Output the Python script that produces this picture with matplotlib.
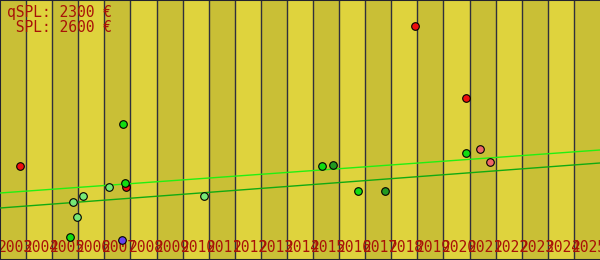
import numpy as np
import matplotlib
matplotlib.use("Agg")
import matplotlib.pyplot as plt

# years shown as columns
years = list(range(2003, 2026))

# listings (fractional year, value)
red_x = [2003.78, 2007.84, 2018.92, 2020.88]
red_y = [94, 72.7, 233.7, 161.7]
pink_x = [2021.41, 2021.80]
pink_y = [110.7, 97.7]
lgreen_x = [2007.19, 2006.19, 2005.81, 2005.96, 2010.82]
lgreen_y = [73, 64, 57.7, 42.7, 64]
green_x = [2007.80, 2005.68, 2007.73, 2015.35, 2016.73, 2020.88]
green_y = [77, 23, 135.7, 93.7, 68.7, 106.7]
dgreen_x = [2015.78, 2017.77]
dgreen_y = [95, 68.7]
blue_x = [2007.69]
blue_y = [20]

# trend lines (start / end value)
trend_x = [2003, 2026]
trend_q = [67, 110]
trend_s = [52, 97]

labels = ["qSPL: 2300 €", " SPL: 2600 €"]

W, H = 600, 260
fig = plt.figure(figsize=(W / 100, H / 100), dpi=100)
ax = fig.add_axes([0, 0, 1, 1])
ax.set_xlim(2003, 2026)
ax.set_ylim(0, 260)

px = 23 / W  # one pixel in years

for i, y in enumerate(years):
    col = "#c9bf36" if i % 2 == 0 else "#dfd33d"
    ax.axvspan(y, y + 1, color=col, lw=0, zorder=0)
    if i > 0:
        ax.axvline(y, color="#30303c", lw=1.0, zorder=1)

for y in years:
    ax.text(y - 2 * px, 8.5, str(y), family="DejaVu Sans Mono", fontsize=10.5,
            color="#a81208", ha="left", va="baseline", zorder=2)

ax.plot(trend_x, trend_q, color="#22f011", lw=1.0, zorder=3)
ax.plot(trend_x, trend_s, color="#11aa11", lw=1.0, zorder=3)

kw = dict(s=30, edgecolors="black", linewidths=0.8, zorder=4)
ax.scatter(red_x, red_y, c="#ee0e0e", **kw)
ax.scatter(pink_x, pink_y, c="#ee6666", **kw)
ax.scatter(lgreen_x, lgreen_y, c="#77e877", **kw)
ax.scatter(green_x, green_y, c="#11dd11", **kw)
ax.scatter(dgreen_x, dgreen_y, c="#229a22", **kw)
ax.scatter(blue_x, blue_y, c="#6644ee", **kw)

for k, t in enumerate(labels):
    ax.text(7 / W, 1 - (17 + 15 * k) / H, t, transform=ax.transAxes,
            family="DejaVu Sans Mono", fontsize=10.5, color="#a81208",
            ha="left", va="baseline", zorder=5)

ax.set_xticks([])
ax.set_yticks([])
for s in ["left", "top", "bottom"]:
    ax.spines[s].set_color("#222230")
    ax.spines[s].set_linewidth(1.5)
ax.spines["right"].set_visible(False)

fig.savefig("out.png", dpi=100)
